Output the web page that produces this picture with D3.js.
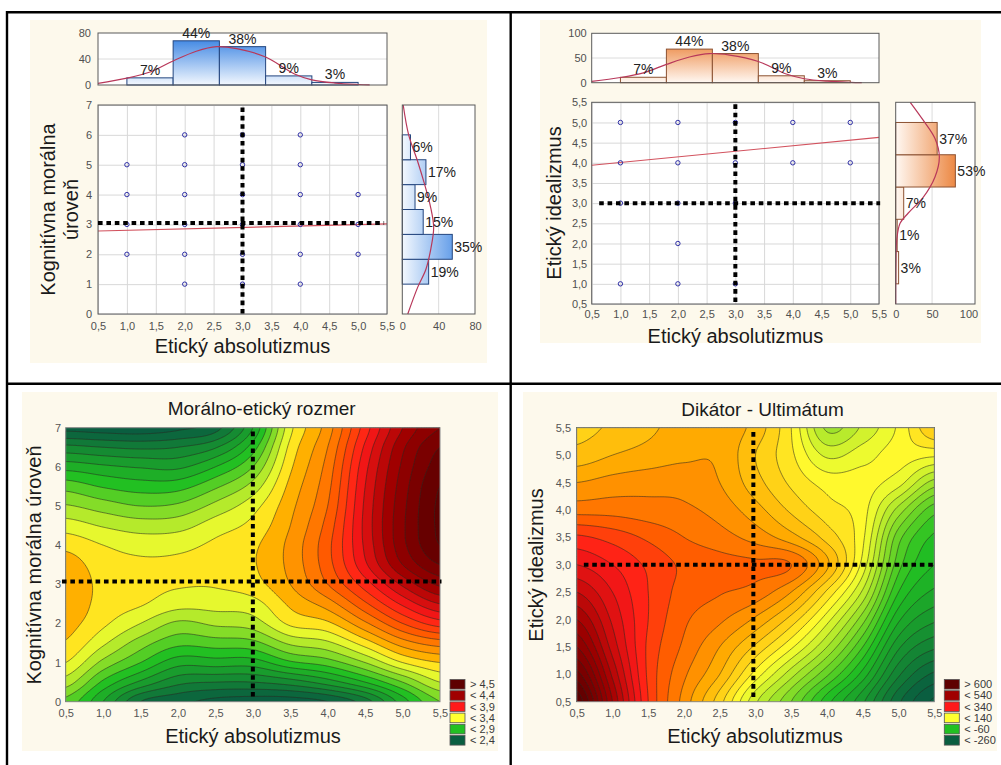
<!DOCTYPE html>
<html lang="sk">
<head>
<meta charset="utf-8">
<title>Etický absolutizmus – grafy</title>
<script src="https://cdn.jsdelivr.net/npm/d3@7"></script>
<style>
  html, body { margin: 0; padding: 0; background: #ffffff; }
  svg { display: block; }
  text { font-family: "Liberation Sans", Arial, Helvetica, sans-serif; }
</style>
</head>
<body>
<svg id="chart" width="1001" height="765" viewBox="0 0 1001 765"></svg>
<script>
// ===================== data =====================
// shared x variable: Etický absolutizmus
const absolutizmusTicks = [0.5, 1, 1.5, 2, 2.5, 3, 3.5, 4, 4.5, 5, 5.5];
const kognitivnaTicks = [0, 1, 2, 3, 4, 5, 6, 7];
const idealizmusTicks = [0.5, 1, 1.5, 2, 2.5, 3, 3.5, 4, 4.5, 5, 5.5];

// histogram of Etický absolutizmus (bin edges + counts) and fitted normal curve (x, count)
const absolutizmusEdges = [1.0, 1.8, 2.6, 3.4, 4.2, 5.0];
const absolutizmusCounts = [11, 68, 59, 14, 4];
const absolutizmusNormal = [[0.5, 2.6], [1.0, 10.5], [1.4, 20], [1.8, 37], [2.2, 52], [2.55, 59],
  [2.9, 56], [3.4, 43], [3.9, 17], [4.2, 8], [4.6, 3], [5.0, 0.8], [5.2, 0.3]];
const absolutizmusCountTicks = [0, 40, 80];
const absolutizmusCountTicksB = [0, 50, 100];

// histogram of Kognitívna morálna úroveň (edges bottom→top) and fitted curve (y, count)
const kognitivnaEdges = [1.0, 11 / 6, 8 / 3, 3.5, 13 / 3, 31 / 6, 6.0];
const kognitivnaCounts = [29, 55, 23, 14, 26, 9];
const kognitivnaNormal = [[0, 6], [0.9, 17], [1.5, 26], [2.2, 31.5], [2.9, 34.5], [3.6, 31],
  [4.4, 24], [5.1, 17], [6.0, 7], [7.0, 1]];
const kognitivnaCountTicks = [0, 40, 80];

// histogram of Etický idealizmus (edges bottom→top) and fitted curve (y, count)
const idealizmusEdges = [1.0, 1.8, 2.6, 3.4, 4.2, 5.0];
const idealizmusCounts = [4, 2, 11, 82, 57];
const idealizmusNormal = [[0.5, 0], [1.5, 0.3], [2.1, 1.5], [2.5, 6], [2.75, 17], [3.15, 38],
  [3.65, 54], [4.15, 60], [4.6, 54], [5.05, 38], [5.5, 20]];
const idealizmusCountTicks = [0, 50, 100];

// observed combinations (absolutizmus, second variable)
const kognitivnaPoints = [[1, 5], [1, 4], [1, 3], [1, 2],
  [2, 6], [2, 5], [2, 4], [2, 3], [2, 2], [2, 1],
  [3, 6], [3, 5], [3, 4], [3, 3], [3, 2], [3, 1],
  [4, 6], [4, 5], [4, 4], [4, 3], [4, 2], [4, 1],
  [5, 4], [5, 3], [5, 2]];
const idealizmusPoints = [[1, 5], [1, 4], [1, 3], [1, 1],
  [2, 5], [2, 4], [2, 3], [2, 2], [2, 1],
  [3, 5], [3, 4], [3, 3], [3, 1],
  [4, 5], [4, 4],
  [5, 5], [5, 4]];

// linear fits (end points)
const kognitivnaFit = [[0.5, 2.78], [5.5, 3.02]];
const idealizmusFit = [[0.5, 3.94], [5.5, 4.63]];

// reference levels (dashed guides)
const absolutizmusRef = 3.0;
const kognitivnaRef = 3.05;
const idealizmusRef = 3.0;

// Morálno-etický rozmer: surface rows y = 7 … 0 (step 0.5), columns x = 0.5 … 5.5 (step 0.5)
const moralnyRozmer = [
  [2.27, 2.25, 2.24, 2.28, 2.36, 2.70, 3.27, 3.55, 3.95, 4.30, 4.50],
  [2.53, 2.50, 2.48, 2.50, 2.59, 2.85, 3.33, 3.60, 4.02, 4.38, 4.60],
  [2.76, 2.72, 2.69, 2.68, 2.80, 3.00, 3.38, 3.64, 4.07, 4.42, 4.65],
  [2.96, 2.89, 2.85, 2.86, 2.98, 3.14, 3.43, 3.67, 4.10, 4.45, 4.70],
  [3.11, 3.05, 3.00, 3.02, 3.13, 3.26, 3.47, 3.70, 4.12, 4.47, 4.72],
  [3.25, 3.19, 3.15, 3.16, 3.25, 3.33, 3.50, 3.74, 4.13, 4.48, 4.72],
  [3.37, 3.30, 3.26, 3.27, 3.32, 3.38, 3.53, 3.77, 4.12, 4.47, 4.70],
  [3.45, 3.35, 3.32, 3.32, 3.34, 3.39, 3.53, 3.76, 4.08, 4.40, 4.60],
  [3.48, 3.37, 3.33, 3.31, 3.31, 3.36, 3.50, 3.70, 3.95, 4.22, 4.42],
  [3.48, 3.36, 3.31, 3.24, 3.24, 3.26, 3.42, 3.55, 3.78, 4.02, 4.20],
  [3.44, 3.32, 3.20, 3.08, 3.12, 3.15, 3.32, 3.38, 3.58, 3.80, 3.95],
  [3.39, 3.22, 3.05, 2.93, 2.95, 2.97, 3.12, 3.18, 3.35, 3.55, 3.65],
  [3.30, 3.07, 2.90, 2.74, 2.75, 2.75, 2.88, 2.95, 3.10, 3.30, 3.40],
  [3.15, 2.88, 2.68, 2.53, 2.50, 2.50, 2.55, 2.65, 2.80, 3.00, 3.20],
  [2.97, 2.70, 2.40, 2.33, 2.27, 2.25, 2.25, 2.30, 2.45, 2.75, 3.00]
];
const moralnyLevels = d3.range(22, 49).map(k => k / 10);
const moralnyLegend = ['> 4,5', '< 4,4', '< 3,9', '< 3,4', '< 2,9', '< 2,4'];

// Dikátor - Ultimátum: surface rows y = 5.5 … 0.5 (step 0.5), columns x = 0.5 … 5.5 (step 0.5)
const diktatorUltimatum = [
  [190, 205, 220, 235, 240, 215, 150, 45, 80, 130, 200],
  [210, 225, 235, 245, 245, 200, 155, 95, 115, 135, 130],
  [250, 260, 265, 265, 250, 210, 170, 140, 135, 110, 40],
  [290, 290, 285, 280, 265, 235, 195, 160, 135, 40, -40],
  [355, 340, 320, 300, 285, 265, 235, 190, 130, -15, -80],
  [400, 375, 345, 320, 310, 305, 300, 230, 115, -40, -100],
  [450, 400, 350, 315, 302, 290, 250, 170, 70, -75, -130],
  [500, 420, 350, 305, 280, 245, 190, 110, 10, -120, -170],
  [550, 440, 345, 295, 250, 195, 130, 50, -50, -170, -220],
  [610, 470, 345, 280, 225, 140, 60, -20, -110, -220, -280],
  [670, 500, 350, 265, 185, 80, 0, -90, -170, -270, -330]
];
const diktatorLevels = d3.range(-350, 701, 25);
const diktatorLegend = ['> 600', '< 540', '< 340', '< 140', '< -60', '< -260'];

// ===================== styling =====================
const PANEL_BG = '#fdf9ec';
const BLUE = { strong: '#2878e0', pale: '#f3f8fe', edge: '#23457e' };
const ORANGE = { strong: '#e8701e', pale: '#fff8f2', edge: '#8c5232' };
const CURVE = '#b8385a';
const FIT = '#d2525e';
const LEGEND_COLORS = ['#5e0000', '#a00000', '#ff1a1a', '#ffff30', '#22c022', '#0a5e40'];
const moralnyPalette = { stops: [2.3, 2.85, 3.3, 3.45, 3.75, 4.0, 4.35, 4.7],
  colors: ['#0a5e40', '#22c022', '#ffff30', '#ffb000', '#ff5a00', '#ff1a1a', '#a00000', '#5e0000'] };
const diktatorPalette = { stops: [-300, -80, 130, 240, 315, 370, 500, 650],
  colors: ['#0a5e40', '#22c022', '#ffff30', '#ffa800', '#ff5a00', '#ff1a1a', '#a00000', '#5e0000'] };

const svg = d3.select('#chart');
const defs = svg.append('defs');
const comma = v => d3.format('.1f')(v).replace('.', ',');
const whole = v => String(v);

function cleanAxis(sel, color) {
  sel.attr('font-size', 11).attr('font-family', null);
  sel.select('.domain').remove();
  sel.selectAll('.tick line').remove();
  sel.selectAll('text').attr('fill', color || '#505050');
}

function frame(g, b, color) {
  g.append('rect').attr('x', b.x0).attr('y', b.y0)
    .attr('width', b.x1 - b.x0).attr('height', b.y1 - b.y0)
    .attr('fill', 'none').attr('stroke', color || '#5a5a5a').attr('stroke-width', 1);
}

function title(text, x, y, size, rotate) {
  const t = svg.append('text').attr('font-size', size).attr('fill', '#1a1a1a')
    .attr('text-anchor', 'middle').text(text);
  if (rotate) t.attr('transform', `translate(${x},${y}) rotate(-90)`);
  else t.attr('x', x).attr('y', y);
}

function dashed(x1, y1, x2, y2) {
  svg.append('line').attr('x1', x1).attr('y1', y1).attr('x2', x2).attr('y2', y2)
    .attr('stroke', '#000').attr('stroke-width', 4).attr('stroke-dasharray', '4.6,3.8');
}

// ---------- histogram above a scatter ----------
function topHistogram(b, yTicks, edges, counts, curve, theme, gradId, pad) {
  const x = d3.scaleLinear().domain([0.5, 5.5]).range([b.x0, b.x1]);
  const y = d3.scaleLinear().domain([0, yTicks[yTicks.length - 1]]).range([b.y1, b.y0]);
  const g = svg.append('g');
  g.append('rect').attr('x', b.x0).attr('y', b.y0).attr('width', b.x1 - b.x0)
    .attr('height', b.y1 - b.y0).attr('fill', '#fff');
  g.selectAll('line.grid').data(yTicks.slice(1, -1)).join('line')
    .attr('x1', b.x0).attr('x2', b.x1).attr('y1', d => y(d)).attr('y2', d => y(d))
    .attr('stroke', '#dcdcdc');
  const grad = defs.append('linearGradient').attr('id', gradId).attr('gradientUnits', 'userSpaceOnUse')
    .attr('x1', 0).attr('x2', 0).attr('y1', y(yTicks[yTicks.length - 1])).attr('y2', y(0));
  grad.append('stop').attr('offset', 0).attr('stop-color', theme.strong);
  grad.append('stop').attr('offset', 1).attr('stop-color', theme.pale);
  const total = d3.sum(counts);
  const bins = counts.map((c, i) => ({ c, a: edges[i], b: edges[i + 1] }));
  g.selectAll('rect.bar').data(bins).join('rect')
    .attr('x', d => x(d.a)).attr('y', d => y(d.c))
    .attr('width', d => x(d.b) - x(d.a)).attr('height', d => y(0) - y(d.c))
    .attr('fill', `url(#${gradId})`).attr('stroke', theme.edge).attr('stroke-width', 1);
  g.append('path').datum(curve)
    .attr('d', d3.line().x(d => x(d[0])).y(d => y(d[1])).curve(d3.curveCatmullRom))
    .attr('fill', 'none').attr('stroke', CURVE).attr('stroke-width', 1.2);
  frame(g, b);
  g.selectAll('text.pct').data(bins).join('text')
    .attr('x', d => x((d.a + d.b) / 2)).attr('y', d => y(d.c) - 3)
    .attr('text-anchor', 'middle').attr('font-size', 14).attr('fill', '#222')
    .text(d => Math.round(d.c / total * 100) + '%');
  g.append('g').attr('transform', `translate(${b.x0},0)`)
    .call(d3.axisLeft(y).tickValues(yTicks).tickFormat(whole).tickSize(0).tickPadding(pad))
    .call(s => cleanAxis(s));
}

// ---------- histogram to the right of a scatter ----------
function sideHistogram(b, yDomain, xTicks, xMax, edges, counts, curve, theme, gradId, padX) {
  const y = d3.scaleLinear().domain(yDomain).range([b.y1, b.y0]);
  const x = d3.scaleLinear().domain([0, xMax]).range([b.x0, b.x1]);
  const g = svg.append('g');
  g.append('rect').attr('x', b.x0).attr('y', b.y0).attr('width', b.x1 - b.x0)
    .attr('height', b.y1 - b.y0).attr('fill', '#fff');
  g.selectAll('line.grid').data(xTicks.slice(1, -1)).join('line')
    .attr('y1', b.y0).attr('y2', b.y1).attr('x1', d => x(d)).attr('x2', d => x(d))
    .attr('stroke', '#dcdcdc');
  const grad = defs.append('linearGradient').attr('id', gradId).attr('gradientUnits', 'userSpaceOnUse')
    .attr('y1', 0).attr('y2', 0).attr('x1', x(0)).attr('x2', x(xTicks[xTicks.length - 1]));
  grad.append('stop').attr('offset', 0).attr('stop-color', theme.pale);
  grad.append('stop').attr('offset', 1).attr('stop-color', theme.strong);
  const total = d3.sum(counts);
  const bins = counts.map((c, i) => ({ c, a: edges[i], b: edges[i + 1] }));
  g.selectAll('rect.bar').data(bins).join('rect')
    .attr('x', x(0)).attr('y', d => y(d.b))
    .attr('width', d => x(d.c) - x(0)).attr('height', d => y(d.a) - y(d.b))
    .attr('fill', `url(#${gradId})`).attr('stroke', theme.edge).attr('stroke-width', 1);
  g.append('path').datum(curve)
    .attr('d', d3.line().x(d => x(d[1])).y(d => y(d[0])).curve(d3.curveCatmullRom))
    .attr('fill', 'none').attr('stroke', CURVE).attr('stroke-width', 1.2);
  frame(g, b);
  g.selectAll('text.pct').data(bins).join('text')
    .attr('x', d => x(d.c) + 2).attr('y', d => y((d.a + d.b) / 2) + 5)
    .attr('font-size', 14).attr('fill', '#222')
    .text(d => Math.round(d.c / total * 100) + '%');
  g.append('g').attr('transform', `translate(0,${b.y1})`)
    .call(d3.axisBottom(x).tickValues(xTicks).tickFormat(whole).tickSize(0).tickPadding(padX))
    .call(s => cleanAxis(s));
}

// ---------- scatter with fit line ----------
function scatter(b, yDomain, yTicks, yFmt, points, fit, refs, padX, padY) {
  const x = d3.scaleLinear().domain([0.5, 5.5]).range([b.x0, b.x1]);
  const y = d3.scaleLinear().domain(yDomain).range([b.y1, b.y0]);
  const g = svg.append('g');
  g.append('rect').attr('x', b.x0).attr('y', b.y0).attr('width', b.x1 - b.x0)
    .attr('height', b.y1 - b.y0).attr('fill', '#fff');
  g.append('g').attr('transform', `translate(0,${b.y1})`)
    .call(d3.axisBottom(x).tickValues(absolutizmusTicks).tickSize(-(b.y1 - b.y0)).tickFormat(''))
    .call(s => { s.select('.domain').remove(); s.selectAll('line').attr('stroke', '#d8d8d8'); });
  g.append('g').attr('transform', `translate(${b.x0},0)`)
    .call(d3.axisLeft(y).tickValues(yTicks).tickSize(-(b.x1 - b.x0)).tickFormat(''))
    .call(s => { s.select('.domain').remove(); s.selectAll('line').attr('stroke', '#d8d8d8'); });
  g.append('line').attr('x1', x(fit[0][0])).attr('y1', y(fit[0][1]))
    .attr('x2', x(fit[1][0])).attr('y2', y(fit[1][1]))
    .attr('stroke', FIT).attr('stroke-width', 1.1);
  g.selectAll('circle').data(points).join('circle')
    .attr('cx', d => x(d[0])).attr('cy', d => y(d[1])).attr('r', 2.2)
    .attr('fill', 'none').attr('stroke', '#2e2ea6').attr('stroke-width', 1);
  frame(g, b);
  g.append('g').attr('transform', `translate(0,${b.y1})`)
    .call(d3.axisBottom(x).tickValues(absolutizmusTicks).tickFormat(comma).tickSize(0).tickPadding(padX))
    .call(s => cleanAxis(s));
  g.append('g').attr('transform', `translate(${b.x0},0)`)
    .call(d3.axisLeft(y).tickValues(yTicks).tickFormat(yFmt).tickSize(0).tickPadding(padY))
    .call(s => cleanAxis(s));
  // dashed guides
  dashed(x(refs.x), y(refs.vy[0]), x(refs.x), y(refs.vy[1]));
  dashed(x(refs.hx[0]), y(refs.y), x(refs.hx[1]), y(refs.y));
}

// ---------- resampling of a coarse surface for smooth contouring ----------
function resample(grid, nx, ny) {
  const rows = grid.length, cols = grid[0].length;
  const at = (r, c) => grid[Math.max(0, Math.min(rows - 1, r))][Math.max(0, Math.min(cols - 1, c))];
  const cubic = (p0, p1, p2, p3, t) =>
    p1 + 0.5 * t * (p2 - p0 + t * (2 * p0 - 5 * p1 + 4 * p2 - p3 + t * (3 * (p1 - p2) + p3 - p0)));
  const out = new Float64Array(nx * ny);
  for (let j = 0; j < ny; j++) {
    const v = j / (ny - 1) * (rows - 1);
    const r = Math.min(Math.floor(v), rows - 2), tv = v - r;
    for (let i = 0; i < nx; i++) {
      const u = i / (nx - 1) * (cols - 1);
      const c = Math.min(Math.floor(u), cols - 2), tu = u - c;
      const col = [-1, 0, 1, 2].map(k => cubic(at(r + k, c - 1), at(r + k, c), at(r + k, c + 1), at(r + k, c + 2), tu));
      out[j * nx + i] = cubic(col[0], col[1], col[2], col[3], tv);
    }
  }
  return out;
}

// ---------- filled contour plot ----------
function contourPlot(o) {
  const b = o.box;
  const x = d3.scaleLinear().domain(o.xDomain).range([b.x0, b.x1]);
  const y = d3.scaleLinear().domain(o.yDomain).range([b.y1, b.y0]);
  const nx = 221, ny = 171;
  const values = resample(o.grid, nx, ny);
  const color = d3.scaleLinear().domain(o.palette.stops).range(o.palette.colors).clamp(true);
  const step = o.levels[1] - o.levels[0];
  const gx = c => x(o.xDomain[0] + (c - 0.5) * (o.xDomain[1] - o.xDomain[0]) / (nx - 1));
  const gy = c => y(o.yDomain[1] - (c - 0.5) * (o.yDomain[1] - o.yDomain[0]) / (ny - 1));
  const path = d3.geoPath(d3.geoTransform({ point(px, py) { this.stream.point(gx(px), gy(py)); } }));
  const bands = d3.contours().size([nx, ny]).thresholds(o.levels)(values);

  defs.append('clipPath').attr('id', o.id).append('rect')
    .attr('x', b.x0).attr('y', b.y0).attr('width', b.x1 - b.x0).attr('height', b.y1 - b.y0);
  const g = svg.append('g').attr('clip-path', `url(#${o.id})`);
  g.append('rect').attr('x', b.x0).attr('y', b.y0).attr('width', b.x1 - b.x0)
    .attr('height', b.y1 - b.y0).attr('fill', color(o.levels[0] - step / 2));
  g.selectAll('path.band').data(bands).join('path')
    .attr('d', path).attr('fill', d => color(d.value + step / 2));
  g.selectAll('path.iso').data(bands).join('path')
    .attr('d', path).attr('fill', 'none').attr('stroke', '#2a2a22')
    .attr('stroke-width', 0.65).attr('stroke-opacity', 0.85);
  frame(svg, b, '#8a8a8a');

  svg.append('g').attr('transform', `translate(0,${b.y1})`)
    .call(d3.axisBottom(x).tickValues(absolutizmusTicks).tickFormat(comma).tickSize(0).tickPadding(7.6))
    .call(s => cleanAxis(s, '#555'));
  svg.append('g').attr('transform', `translate(${b.x0},0)`)
    .call(d3.axisLeft(y).tickValues(o.yTicks).tickFormat(o.yFmt).tickSize(0).tickPadding(o.padY))
    .call(s => cleanAxis(s, '#555'));

  // dashed guides
  dashed(x(o.refs.x), y(o.refs.vy[0]), x(o.refs.x), y(o.refs.vy[1]));
  dashed(x(o.refs.hx[0]), y(o.refs.y), x(o.refs.hx[1]), y(o.refs.y));

  // legend
  const lg = svg.append('g');
  lg.selectAll('rect').data(o.legend).join('rect')
    .attr('x', o.legendX).attr('y', (d, i) => 679.5 + i * 11.2)
    .attr('width', 15).attr('height', 9.6)
    .attr('fill', (d, i) => LEGEND_COLORS[i]).attr('stroke', '#555').attr('stroke-width', 0.8);
  lg.selectAll('text').data(o.legend).join('text')
    .attr('x', o.legendX + 20).attr('y', (d, i) => 679.5 + i * 11.2 + 8.6)
    .attr('font-size', 11).attr('fill', '#3a3a3a').text(d => d);
}

// ===================== layout =====================
// panel backgrounds
[[30, 20, 487, 363], [540, 20, 981, 343], [22, 392, 498, 751], [523, 392, 997, 751]]
  .forEach(r => svg.append('rect').attr('x', r[0]).attr('y', r[1])
    .attr('width', r[2] - r[0]).attr('height', r[3] - r[1]).attr('fill', PANEL_BG));

// --- top left: Kognitívna morálna úroveň vs Etický absolutizmus ---
topHistogram({ x0: 98, x1: 387, y0: 33, y1: 85 }, absolutizmusCountTicks,
  absolutizmusEdges, absolutizmusCounts, absolutizmusNormal, BLUE, 'gradTopA', 7);
scatter({ x0: 98, x1: 387, y0: 105, y1: 314 }, [0, 7], kognitivnaTicks, whole,
  kognitivnaPoints, kognitivnaFit,
  { x: absolutizmusRef, vy: [6.92, 0], y: kognitivnaRef, hx: [0.5, 5.45] }, 7.7, 6);
sideHistogram({ x0: 402.3, x1: 475, y0: 105, y1: 314 }, [0, 7], kognitivnaCountTicks, 80,
  kognitivnaEdges, kognitivnaCounts, kognitivnaNormal, BLUE, 'gradSideA', 7.7);
title('Etický absolutizmus', 242.5, 353, 20);
title('Kognitívna morálna', 54.5, 209.5, 20, true);
title('úroveň', 78, 209.5, 20, true);

// --- top right: Etický idealizmus vs Etický absolutizmus ---
topHistogram({ x0: 591.7, x1: 879, y0: 33.3, y1: 82.7 }, absolutizmusCountTicksB,
  absolutizmusEdges, absolutizmusCounts, absolutizmusNormal, ORANGE, 'gradTopB', 5);
scatter({ x0: 591.7, x1: 879, y0: 102.3, y1: 304 }, [0.5, 5.5], idealizmusTicks, comma,
  idealizmusPoints, idealizmusFit,
  { x: absolutizmusRef, vy: [5.45, 0.55], y: idealizmusRef, hx: [0.63, 5.52] }, 6, 4.5);
sideHistogram({ x0: 895.7, x1: 975, y0: 102.3, y1: 304 }, [0.5, 5.5], idealizmusCountTicks, 109,
  idealizmusEdges, idealizmusCounts, idealizmusNormal, ORANGE, 'gradSideB', 6);
title('Etický absolutizmus', 735.4, 342.7, 20);
title('Etický idealizmus', 561, 203, 20, true);

// --- bottom left: Morálno-etický rozmer ---
contourPlot({
  id: 'clipMoral', box: { x0: 65.7, x1: 440, y0: 427.7, y1: 701.7 },
  xDomain: [0.5, 5.5], yDomain: [0, 7], yTicks: kognitivnaTicks, yFmt: whole, padY: 4.7,
  grid: moralnyRozmer, levels: moralnyLevels, palette: moralnyPalette,
  legend: moralnyLegend, legendX: 450,
  refs: { x: absolutizmusRef, vy: [6.9, 0.1], y: 3.07, hx: [0.45, 5.52] }
});
title('Morálno-etický rozmer', 261.7, 415, 19);
title('Etický absolutizmus', 253, 742.5, 20);
title('Kognitívna morálna úroveň', 41, 565, 20, true);

// --- bottom right: Dikátor - Ultimátum ---
contourPlot({
  id: 'clipDikt', box: { x0: 576.7, x1: 934.3, y0: 427.7, y1: 701.7 },
  xDomain: [0.5, 5.5], yDomain: [0.5, 5.5], yTicks: idealizmusTicks, yFmt: comma, padY: 5.7,
  grid: diktatorUltimatum, levels: diktatorLevels, palette: diktatorPalette,
  legend: diktatorLegend, legendX: 944.3,
  refs: { x: 2.97, vy: [5.42, 0.56], y: 3.0, hx: [0.6, 5.5] }
});
title('Dikátor - Ultimátum', 762.5, 416, 19);
title('Etický absolutizmus', 755, 742.7, 20);
title('Etický idealizmus', 543, 565, 20, true);

// table rules
[[7, 12.3, 1001, 12.3], [7, 383.8, 1001, 383.8], [7, 11, 7, 765], [510.7, 11, 510.7, 765]]
  .forEach(l => svg.append('line').attr('x1', l[0]).attr('y1', l[1]).attr('x2', l[2]).attr('y2', l[3])
    .attr('stroke', '#000').attr('stroke-width', 2.4));
</script>
</body>
</html>
